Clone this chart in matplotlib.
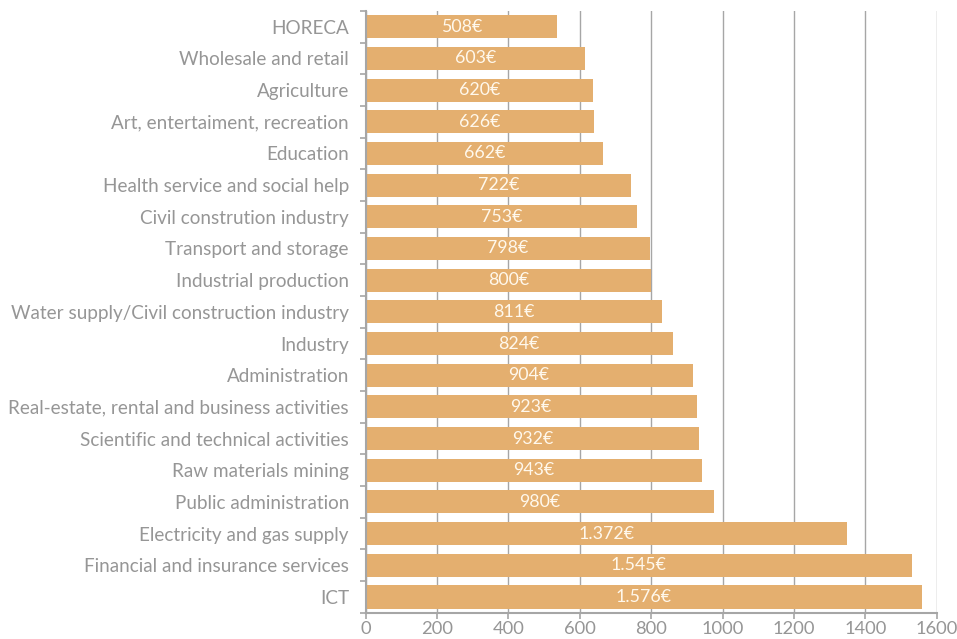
import matplotlib.pyplot as plt
import numpy as np

sectors = [
    "HORECA", "Wholesale and retail", "Agriculture", "Art, entertaiment, recreation",
    "Education", "Health service and social help", "Civil constrution industry",
    "Transport and storage", "Industrial production", "Water supply/Civil construction industry",
    "Industry", "Administration", "Real-estate, rental and business activities",
    "Scientific and technical activities", "Raw materials mining", "Public administration",
    "Electricity and gas supply", "Financial and insurance services", "ICT",
]
# bar lengths as drawn in the picture
bar_values = [536, 614, 636, 639, 665, 743, 760, 796, 800, 830,
              860, 916, 927, 934, 943, 976, 1349, 1529, 1559]
# value labels printed on the bars
value_labels = ["508€", "603€", "620€", "626€", "662€", "722€", "753€", "798€", "800€", "811€",
                "824€", "904€", "923€", "932€", "943€", "980€", "1.372€", "1.545€", "1.576€"]
x_ticks = [0, 200, 400, 600, 800, 1000, 1200, 1400, 1600]

BAR_COLOR = "#E4AF6F"
GRAY = "#969696"
LINE = "#A6A6A6"

plt.rcParams["font.family"] = ["Lato", "DejaVu Sans"]

fig = plt.figure(figsize=(9.57, 6.39), dpi=100)
ax = fig.add_axes([0.382, 0.041, 0.597, 0.942])

pos = np.arange(len(sectors))
ax.barh(pos, bar_values, height=0.73, color=BAR_COLOR, zorder=2)

for p, v, lab in zip(pos, bar_values, value_labels):
    ax.text(v / 2, p, lab, ha="center", va="center", color="#FFF8EC", fontsize=12.8, zorder=3)

ax.set_ylim(len(sectors) - 0.5, -0.5)
ax.set_xlim(0, 1600)
ax.set_xticks(x_ticks)
ax.set_yticks(pos)
ax.set_yticklabels(sectors)
ax.set_yticks(np.arange(len(sectors) + 1) - 0.5, minor=True)

ax.tick_params(axis="y", which="major", length=0, pad=12, labelsize=13.6, labelcolor=GRAY)
ax.tick_params(axis="y", which="minor", length=4, color=LINE, width=1.2)
ax.tick_params(axis="x", length=4, color=LINE, width=1.2, labelsize=13.2, labelcolor=GRAY, pad=2)

ax.grid(axis="x", color=LINE, linewidth=1, zorder=0)
ax.set_axisbelow(True)
for s in ["top", "right"]:
    ax.spines[s].set_visible(False)
for s in ["left", "bottom"]:
    ax.spines[s].set_color(LINE)
    ax.spines[s].set_linewidth(1.5)

fig.savefig("out.png", dpi=100)
